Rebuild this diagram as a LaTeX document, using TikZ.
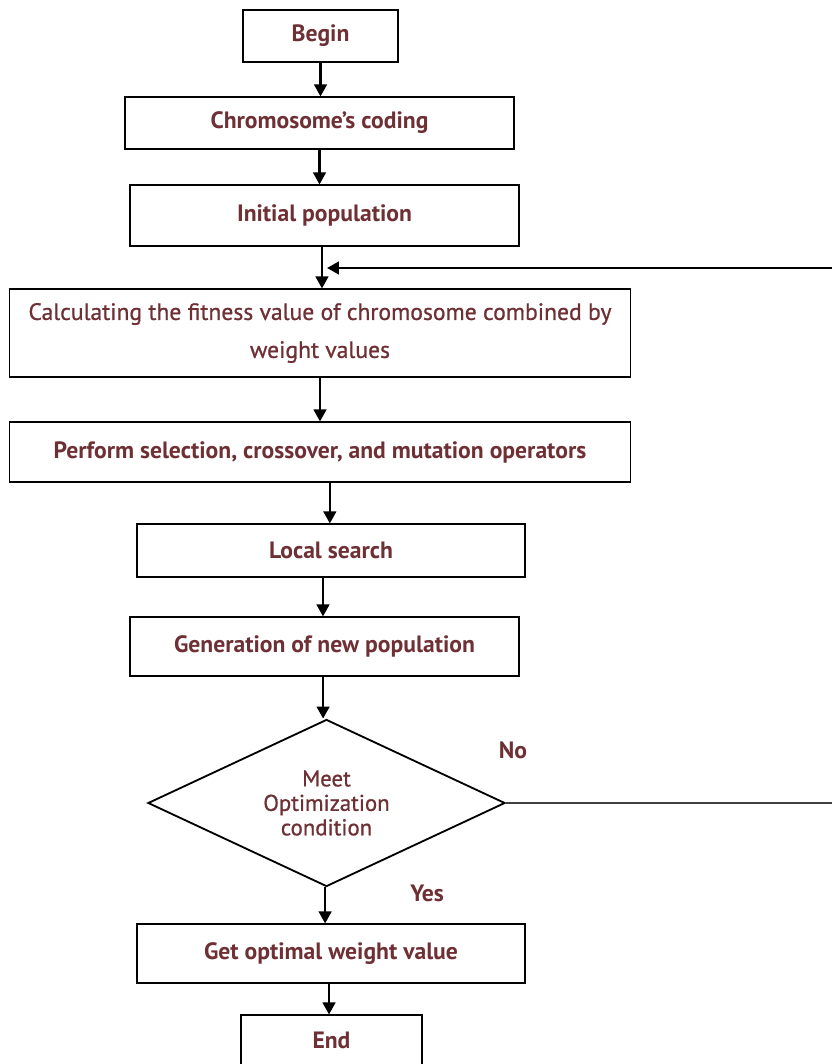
\documentclass[tikz,border=0pt]{standalone}
\usepackage{fontspec}
\setmainfont{PT Sans}
\newfontfamily\medfont[FakeBold=0.8]{PT Sans}
\usepackage{tikz}
\usetikzlibrary{shapes.geometric,arrows.meta,positioning,calc}
\definecolor{txtR}{HTML}{6E3034}

\begin{document}
\begin{tikzpicture}[
  x=0.025cm,y=-0.025cm,
  font=\fontsize{16.8}{19}\selectfont\bfseries,
  every node/.style={align=center,text=txtR},
  stage/.style={draw=black,line width=0.8pt,inner sep=2pt},
  decide/.style={diamond,draw=black,line width=1.3pt,inner sep=0pt,
                 shape aspect=2.14,
                 minimum width=8.925cm,minimum height=4.175cm,
                 font=\fontsize{16.2}{17.4}\selectfont\medfont},
  flow/.style={-{Triangle[length=8.5pt,width=9pt]},line width=1.6pt,black},
  back/.style={line width=1pt,black!75}
]
\clip (0,0) rectangle (832,1064);

\node[stage,minimum width=3.875cm,minimum height=1.3cm]   (begin) at (320.5,36)  {Begin};
\node[stage,minimum width=9.725cm,minimum height=1.3cm]   (code)  at (319.5,123) {Chromosome’s coding};
\node[stage,minimum width=9.725cm,minimum height=1.525cm] (init)  at (324.5,215.5) {Initial population};
\node[stage,minimum width=15.5cm,minimum height=2.2cm,
      font=\fontsize{16.8}{19}\selectfont\medfont]         (fit)   at (320,333)
  {Calculating the fitness value of chromosome combined by\\[8pt]weight values};
\node[stage,minimum width=15.5cm,minimum height=1.5cm]    (oper)  at (320,452)   {Perform selection, crossover, and mutation operators};
\node[stage,minimum width=9.7cm,minimum height=1.325cm]   (local) at (331,550.5) {Local search};
\node[stage,minimum width=9.725cm,minimum height=1.475cm] (newpop) at (324.5,646.5) {Generation of new population};
\node[decide] (cond) at (326.5,803) {Meet\\Optimization\\condition};
\node[stage,minimum width=9.7cm,minimum height=1.475cm]   (best)  at (331,953.5) {Get optimal weight value};
\node[stage,minimum width=4.525cm,minimum height=1.25cm]  (end)   at (331.5,1040) {End};

\node (no)  at (513,750) {No};
\node (yes) at (427,893) {Yes};

\coordinate (rt)   at (845,268);
\coordinate (join) at (327,268);

\draw[flow] (begin.south)  -- (begin.south |- code.north);
\draw[flow] (code.south)   -- (code.south |- init.north);
\draw[flow] ([xshift=-1.8pt]init.south) -- ([xshift=-1.8pt]init.south |- fit.north);
\draw[flow] (fit.south)    -- (fit.south |- oper.north);
\draw[flow] ([xshift=7pt]oper.south) -- ([xshift=7pt]oper.south |- local.north);
\draw[flow] ([xshift=-5.7pt]local.south) -- ([xshift=-5.7pt]local.south |- newpop.north);
\draw[flow] ([xshift=-1pt]newpop.south) -- ([xshift=-1pt]newpop.south |- cond.north);
\draw[flow] ([xshift=-1pt]cond.south) -- ([xshift=-1pt]cond.south |- best.north);
\draw[flow] ([xshift=-1.4pt]best.south) -- ([xshift=-1.4pt]best.south |- end.north);

\draw[back] (cond.east) -- (cond.east -| rt) -- (rt);
\draw[flow] (rt) -- (join);
\end{tikzpicture}
\end{document}
